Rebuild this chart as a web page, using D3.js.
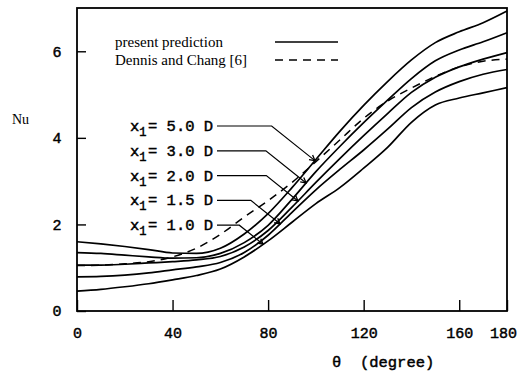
<!DOCTYPE html>
<html>
<head>
<meta charset="utf-8">
<script src="https://cdn.jsdelivr.net/npm/d3@7"></script>
<style>
  html, body { margin: 0; padding: 0; background: #fff; }
  svg { display: block; }
  .mono { font-family: "Liberation Mono", "DejaVu Sans Mono", monospace; }
  .serif { font-family: "Liberation Serif", "DejaVu Serif", serif; }
</style>
</head>
<body>
<svg id="chart" width="519" height="372"></svg>
<script>
// Local Nusselt number around the cylinder, theta in degrees
const theta = [0, 10, 20, 30, 40, 50, 60, 70, 80, 90, 100, 110, 120, 130, 140, 150, 160, 170, 180];

// present prediction, one series per downstream station x1
const stations = ["5.0", "3.0", "2.0", "1.5", "1.0"];
const nuX50 = [1.60, 1.55, 1.49, 1.42, 1.34, 1.33, 1.45, 1.78, 2.25, 2.85, 3.50, 4.15, 4.75, 5.30, 5.80, 6.20, 6.45, 6.66, 6.93];
const nuX30 = [1.35, 1.33, 1.29, 1.25, 1.22, 1.23, 1.33, 1.58, 1.98, 2.58, 3.22, 3.80, 4.35, 4.87, 5.37, 5.78, 6.03, 6.22, 6.43];
const nuX20 = [1.06, 1.06, 1.08, 1.11, 1.14, 1.18, 1.26, 1.48, 1.86, 2.40, 2.97, 3.52, 4.05, 4.56, 5.05, 5.40, 5.64, 5.82, 5.97];
const nuX15 = [0.79, 0.80, 0.83, 0.88, 0.95, 1.02, 1.12, 1.35, 1.75, 2.28, 2.80, 3.27, 3.72, 4.20, 4.70, 5.06, 5.30, 5.47, 5.58];
const nuX10 = [0.46, 0.50, 0.56, 0.63, 0.72, 0.82, 0.97, 1.25, 1.62, 2.05, 2.48, 2.85, 3.30, 3.78, 4.36, 4.76, 4.92, 5.04, 5.16];

// Dennis and Chang [6]
const nuDennis = [1.05, 1.06, 1.09, 1.14, 1.25, 1.45, 1.77, 2.17, 2.55, 2.97, 3.45, 3.95, 4.45, 4.85, 5.15, 5.42, 5.64, 5.77, 5.82];

// theta at which each station label points onto its curve
const pointerTheta = [99.6, 95.9, 92.5, 85, 77.9];

const xTicks = [0, 40, 80, 120, 160, 180];
const yTicks = [0, 2, 4, 6];
const legendLabels = ["present prediction", "Dennis and Chang [6]"];

const series = [nuX50, nuX30, nuX20, nuX15, nuX10];

(function draw() {
  const svg = d3.select("#chart");
  const mLeft = 77, mRight = 507, mTop = 8, mBottom = 311;

  const x = d3.scaleLinear().domain([0, 180]).range([mLeft, mRight]);
  const y = d3.scaleLinear().domain([0, 7]).range([mBottom, mTop]);

  // printed-type look for the monospace texts
  const inked = sel => sel
    .attr("fill", "#000")
    .attr("stroke", "#000")
    .attr("stroke-width", 0.45);

  // axes with inward ticks
  const xAxis = svg.append("g")
    .attr("transform", `translate(0,${mBottom})`)
    .call(d3.axisBottom(x).tickValues(xTicks).tickSizeInner(-11).tickSizeOuter(0).tickPadding(16).tickFormat(d3.format("d")));
  const yAxis = svg.append("g")
    .attr("transform", `translate(${mLeft},0)`)
    .call(d3.axisLeft(y).tickValues(yTicks).tickSizeInner(-9).tickSizeOuter(0).tickPadding(16).tickFormat(d3.format("d")));

  [xAxis, yAxis].forEach(g => {
    g.select(".domain").remove();
    g.selectAll(".tick line").attr("stroke", "#000").attr("stroke-width", 1.4);
    g.selectAll(".tick text")
      .attr("class", "mono")
      .style("font-size", "15px")
      .call(inked);
  });
  xAxis.selectAll(".tick text")
    .attr("dy", "0.71em")
    .attr("x", d => d === 180 ? -4 : 0);
  yAxis.selectAll(".tick text").attr("text-anchor", "middle").attr("x", -20);

  // frame
  svg.append("rect")
    .attr("x", mLeft).attr("y", mTop)
    .attr("width", mRight - mLeft).attr("height", mBottom - mTop)
    .attr("fill", "none").attr("stroke", "#000").attr("stroke-width", 1.8);

  const line = d3.line()
    .x((d, i) => x(theta[i]))
    .y(d => y(d))
    .curve(d3.curveMonotoneX);

  const plot = svg.append("g");

  plot.selectAll("path.pred")
    .data(series)
    .join("path")
    .attr("class", "pred")
    .attr("d", line)
    .attr("fill", "none")
    .attr("stroke", "#000")
    .attr("stroke-width", 1.7);

  plot.append("path")
    .attr("d", line(nuDennis))
    .attr("fill", "none")
    .attr("stroke", "#000")
    .attr("stroke-width", 1.5)
    .attr("stroke-dasharray", "8,6");

  // legend
  const legend = svg.append("g");
  legendLabels.forEach((lab, i) => {
    const ly = 42 + i * 18;
    legend.append("text")
      .attr("class", "serif")
      .attr("x", 115).attr("y", ly + 4.5)
      .style("font-size", "15px")
      .attr("fill", "#000")
      .text(lab);
    legend.append("line")
      .attr("x1", 275).attr("x2", 338)
      .attr("y1", ly).attr("y2", ly)
      .attr("stroke", "#000")
      .attr("stroke-width", 1.5)
      .attr("stroke-dasharray", i === 1 ? "8,6" : null);
  });

  // station labels with pointer lines onto their curves
  const interp = (arr, t) => {
    const i = Math.min(theta.length - 2, Math.floor(t / 10));
    const f = (t - theta[i]) / (theta[i + 1] - theta[i]);
    return arr[i] + f * (arr[i + 1] - arr[i]);
  };
  const labelG = svg.append("g");
  stations.forEach((s, i) => {
    const cy = 126 + i * 24.8;
    const t = labelG.append("text")
      .attr("class", "mono")
      .attr("x", 130).attr("y", cy + 5)
      .style("font-size", "15.5px")
      .call(inked);
    t.append("tspan").text("x");
    t.append("tspan").attr("dy", 5).style("font-size", "12px").text("1");
    t.append("tspan").attr("dy", -5).attr("x", 148).text("= " + s + " D");

    const ex = x(pointerTheta[i]);
    const ey = y(interp(series[i], pointerTheta[i]));
    const slope = 0.8;
    const elbow = ex - (ey - cy) / slope;
    labelG.append("path")
      .attr("d", `M217,${cy}L${elbow},${cy}L${ex},${ey}`)
      .attr("fill", "none").attr("stroke", "#000").attr("stroke-width", 1.2);
    // small arrow head
    const ang = Math.atan(slope);
    const L = 6, W = 0.5;
    const p1 = [ex - L * Math.cos(ang - W), ey - L * Math.sin(ang - W)];
    const p2 = [ex - L * Math.cos(ang + W), ey - L * Math.sin(ang + W)];
    labelG.append("path")
      .attr("d", `M${p1}L${ex},${ey}L${p2}`)
      .attr("fill", "none").attr("stroke", "#000").attr("stroke-width", 1.3);
  });

  // axis titles
  svg.append("text")
    .attr("class", "serif")
    .attr("x", 12).attr("y", 124)
    .style("font-size", "14px")
    .attr("fill", "#000")
    .text("Nu");

  svg.append("text")
    .attr("class", "mono")
    .attr("x", 332).attr("y", 367)
    .style("font-size", "15.5px")
    .style("white-space", "pre")
    .call(inked)
    .text("θ  (degree)");
})();
</script>
</body>
</html>
